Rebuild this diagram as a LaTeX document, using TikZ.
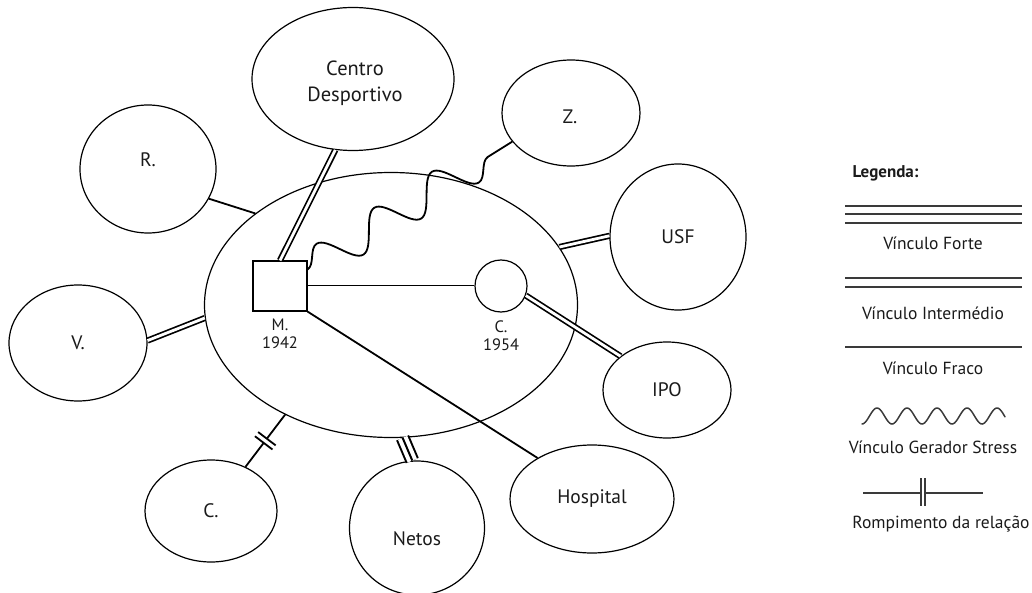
\documentclass[tikz,border=0pt]{standalone}
\usepackage{fontspec}
\setmainfont{PT Sans}
\usetikzlibrary{shapes.geometric,decorations.pathmorphing,calc}
\definecolor{ink}{HTML}{1A1A1A}
\definecolor{legline}{HTML}{3A3A3A}
\begin{document}
\begin{tikzpicture}[x=1pt,y=-1pt,
  lbl/.style={font=\fontsize{19.5}{26}\selectfont, text=ink},
  small/.style={font=\fontsize{16.5}{18}\selectfont, text=ink},
  legtext/.style={font=\fontsize{17.5}{20}\selectfont, text=ink},
  member/.style={draw, ellipse, line width=1.2pt, inner sep=0pt, lbl},
  weak/.style={line width=1.8pt},
  thinlink/.style={line width=1pt},
  inter/.style={double, double distance=2.8pt, line width=1.7pt},
  strong/.style={line width=14pt, postaction={draw, white, line width=10pt},
                 postaction={draw, black, line width=2pt}},
  stress/.style={decorate, decoration={snake, amplitude=17pt, segment length=68pt},
                 line width=1.8pt},
  legend line/.style={draw=legline, line width=1.5pt}
]
\useasboundingbox (0,0) rectangle (1032,593);

% household and the people / services around it
\node[member, minimum width=373, minimum height=265] (fam) at (391,305) {};
\node[member, minimum width=202, minimum height=143] (cd) at (353,79) {};
\node[lbl, align=center, font=\fontsize{20.5}{26}\selectfont] (cdtext) at (355,83) {Centro\\Desportivo};
\node[member, minimum width=136, minimum height=128] (r) at (148,169) {};
\node[lbl] (rtext) at (148,160) {R.};
\node[member, minimum width=138, minimum height=106] (z) at (571,113) {};
\node[lbl] (ztext) at (570,117) {Z.};
\node[member, minimum width=136, minimum height=146] (usf) at (678,237) {USF};
\node[member, minimum width=138, minimum height=116] (v) at (78,343) {V.};
\node[member, minimum width=128, minimum height=96] (ipo) at (667,390) {IPO};
\node[member, minimum width=164, minimum height=108] (hosp) at (592,499) {Hospital};
\node[member, minimum width=135, minimum height=134] (netos) at (417,528) {};
\node[lbl] (netostext) at (417,539) {Netos};
\node[member, minimum width=132, minimum height=102] (cb) at (211,511) {C.};

% genogram symbols inside the household
\node[draw, line width=1.2pt, minimum width=54, minimum height=50, inner sep=0pt] (m) at (280,286) {};
\node[draw, circle, line width=1.2pt, minimum size=52, inner sep=0pt] (c) at (501,286) {};
\node[small, align=center] (mlab) at (280,334) {M.\\1942};
\node[small, align=center] (clab) at (501,336) {C.\\1954};

% relationships
\draw[weak] (r.-26) -- (fam.146);
\draw[inter] (cd.-104) -- (m.north);
\draw[stress] (m.31) -- (z.206);
\draw[thinlink] (m.east) -- (c.west);
\draw[weak] (m.south east) -- (hosp.143);
\draw[inter] (c.-21) -- (ipo.144);
\draw[inter] (fam.19) -- (usf.179);
\draw[inter] (v.2) -- (fam.184);
\draw[strong] (fam.-85) -- (netos.94);

% broken relationship
\path (cb.52) -- (fam.226) coordinate[pos=0.46] (k1) coordinate[pos=0.54] (k2);
\draw[weak] (cb.52) -- (k1) (k2) -- (fam.226);
\draw[weak] ($(k1)!11pt!90:(k2)$) -- ($(k1)!11pt!-90:(k2)$);
\draw[weak] ($(k2)!11pt!90:(k1)$) -- ($(k2)!11pt!-90:(k1)$);

% legend
\node[legtext, font=\fontsize{17}{20}\selectfont\bfseries, anchor=west] (legtitle) at (849,173) {Legenda:};
\draw[legend line] (845,206) -- (1022,206);
\draw[legend line] (845,214) -- (1022,214);
\draw[legend line] (845,223) -- (1022,223);
\node[legtext] (lforte) at (933,243) {Vínculo Forte};
\draw[legend line] (845,278) -- (1022,278);
\draw[legend line] (845,287) -- (1022,287);
\node[legtext] (linter) at (933,313) {Vínculo Intermédio};
\draw[legend line, line width=1.8pt] (845,347) -- (1022,347);
\node[legtext] (lfraco) at (933,368) {Vínculo Fraco};
\draw[legend line, line cap=round]
  plot[domain=0:143, samples=120, smooth] ({862+\x},{416+8*cos(\x*12)});
\node[legtext] (lstress) at (933,447) {Vínculo Gerador Stress};
\draw[legend line] (863,493) -- (921,493);
\draw[legend line] (925,493) -- (983,493);
\draw[legend line] (921,478) -- (921,506);
\draw[legend line] (925,478) -- (925,506);
\node[legtext] (lbreak) at (941,524) {Rompimento da relação};
\end{tikzpicture}
\end{document}
